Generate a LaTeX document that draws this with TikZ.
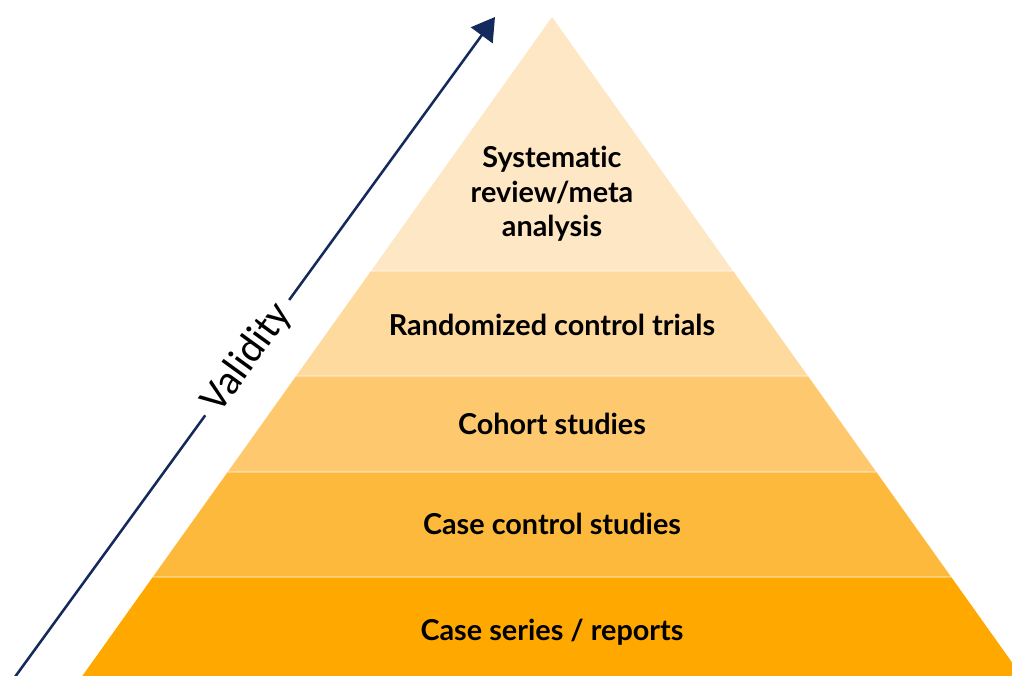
\documentclass[tikz,border=0pt]{standalone}
\usepackage{fontspec}
\setmainfont{Lato}[Ligatures=NoCommon]
\newfontfamily\valfont{Carlito}
\usetikzlibrary{arrows.meta,calc}
\definecolor{lay1}{HTML}{FEE7C4}
\definecolor{lay2}{HTML}{FEDA9E}
\definecolor{lay3}{HTML}{FEC96E}
\definecolor{lay4}{HTML}{FDB93B}
\definecolor{lay5}{HTML}{FFA800}
\definecolor{navy}{HTML}{14295C}
\tikzset{
  lbl/.style={font=\fontsize{21.6}{25.8}\selectfont\bfseries, text=black, align=center, inner sep=0pt},
  sep/.style={draw=white, draw opacity=0.35, line width=1.2pt},
}
\begin{document}
\begin{tikzpicture}[x=0.75pt,y=-0.75pt]
\useasboundingbox (0,0) rectangle (1012,675);
\begin{scope}
\clip (0,0) rectangle (1012,675);
\fill[lay1] (552,17) -- (733,271) -- (371,271) -- cycle;
\fill[lay2] (371,271) -- (733,271) -- (807.9,376) -- (296.1,376) -- cycle;
\fill[lay3] (296.1,376) -- (807.9,376) -- (876.3,472) -- (227.7,472) -- cycle;
\fill[lay4] (227.7,472) -- (876.3,472) -- (951.2,577) -- (152.8,577) -- cycle;
\fill[lay5] (152.8,577) -- (951.2,577) -- (1038.8,700) -- (65.2,700) -- cycle;
\draw[sep] (371,271) -- (733,271);
\draw[sep] (296.1,376) -- (807.9,376);
\draw[sep] (227.7,472) -- (876.3,472);
\draw[sep] (152.8,577) -- (951.2,577);
\end{scope}
\node[lbl] (l1) at (552,194) {Systematic\\review/meta\\analysis};
\node[lbl] (l2) at (552,325) {Randomized control trials};
\node[lbl] (l3) at (552,424) {Cohort studies};
\node[lbl] (l4) at (552,524) {Case control studies};
\node[lbl] (l5) at (552,632) {Case series / reports};
\coordinate (as) at (12,681);
\coordinate (at) at (495,17);
\draw[navy, line width=1.9pt, -{Triangle[length=17pt,width=20pt]}] (as) -- node[pos=0.487, sloped, fill=white, inner xsep=7pt, inner ysep=2pt, text=black, font=\valfont\fontsize{31}{34}\selectfont] (val) {Validity} (at);
\end{tikzpicture}
\end{document}
